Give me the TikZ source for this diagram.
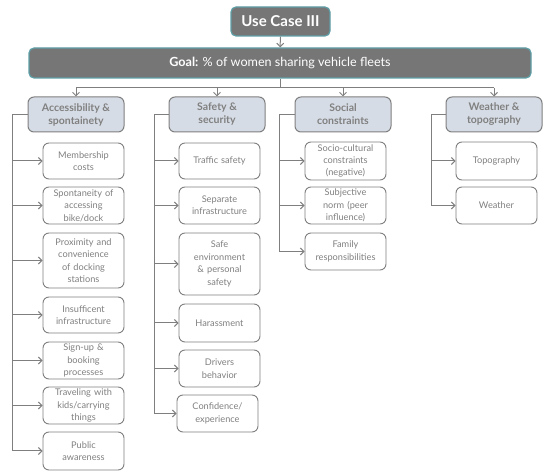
\documentclass[tikz,border=0pt]{standalone}
\usepackage{fontspec}
\setmainfont{Lato}
\usetikzlibrary{arrows.meta}

\definecolor{ucfill}{HTML}{767676}
\definecolor{ucedge}{HTML}{5E9FA6}
\definecolor{catfill}{HTML}{D6DCE5}
\definecolor{linegray}{HTML}{7F7F7F}
\definecolor{textgray}{HTML}{808080}

\tikzset{
  usecase/.style={draw=ucedge, line width=1.2pt, fill=ucfill, rounded corners=5pt,
    text=white, font=\fontsize{15}{17}\selectfont\bfseries, inner sep=0pt},
  catbox/.style={draw=linegray, line width=1pt, fill=catfill, rounded corners=6pt,
    text=textgray, font=\fontsize{10.5}{13}\selectfont\bfseries, align=center,
    minimum width=96pt, minimum height=35pt, inner sep=0pt},
  itembox/.style={draw=linegray, line width=0.9pt, fill=white, rounded corners=6pt,
    text=textgray, font=\fontsize{9.2}{12.4}\selectfont, align=center, text width=79pt,
    minimum width=81pt, inner sep=0pt},
  link/.style={draw=linegray, line width=1pt},
  >={Straight Barb[length=3.5pt,width=7pt]}
}

\begin{document}
\begin{tikzpicture}[x=1pt, y=-1pt]
    \useasboundingbox (0,0) rectangle (550,476);

    % Use case and goal
    \node[usecase, minimum width=99pt, minimum height=29pt] (uc) at (280.5,21.5) {Use Case III};
    \node[usecase, minimum width=502pt, minimum height=30pt, font=\fontsize{12.6}{14}\selectfont]
      (goal) at (280,63) {\textbf{Goal:} \% of women sharing vehicle fleets};
    \draw[link, ->] (uc) -- (goal);

    % Categories
    \node[catbox] (acc) at (76,114.5) {Accessibility \&\\spontainety};
    \node[catbox] (saf) at (217,114.5) {Safety \&\\security};
    \node[catbox] (soc) at (343,114.5) {Social\\constraints};
    \node[catbox] (wea) at (494,114.5) {Weather \&\\topography};

    \coordinate (split) at (280,88);
    \draw[link] (goal.south) -- (split);
    \draw[link] (acc.north |- split) -- (wea.north |- split);
    \foreach \c in {acc,saf,soc,wea}
      \draw[link, ->] (\c.north |- split) -- (\c.north);

    % Accessibility & spontainety
    \node[itembox, minimum height=36pt] (mem) at (83.5,161) {Membership\\costs};
    \node[itembox, minimum height=37pt] (spo) at (83.5,205.5) {Spontaneity of\\accessing\\bike/dock};
    \node[itembox, minimum height=55pt] (pro) at (83.5,260.5) {Proximity and\\convenience\\of docking\\stations};
    \node[itembox, minimum height=36pt] (ins) at (83.5,315) {Insufficent\\infrastructure};
    \node[itembox, minimum height=37pt] (sig) at (83.5,360.5) {Sign-up \&\\booking\\processes};
    \node[itembox, minimum height=37pt] (tra) at (83.5,405.5) {Traveling with\\kids/carrying\\things};
    \node[itembox, minimum height=38pt] (pub) at (83.5,451) {Public\\awareness};

    % Safety & security
    \node[itembox, minimum height=36pt] (trf) at (219.5,161) {Traffic safety};
    \node[itembox, minimum height=37pt] (sep) at (219.5,205.5) {Separate\\infrastructure};
    \node[itembox, minimum height=62pt] (env) at (219.5,264) {Safe\\environment\\\& personal\\safety};
    \node[itembox, minimum height=38pt] (har) at (219.5,323) {Harassment};
    \node[itembox, minimum height=37pt] (drv) at (219.5,368.5) {Drivers\\behavior};
    \node[itembox, minimum height=37pt] (con) at (217.5,413.5) {Confidence/\\experience};

    % Social constraints
    \node[itembox, minimum height=38pt] (scu) at (345.5,161) {Socio-cultural\\constraints\\(negative)};
    \node[itembox, minimum height=37pt] (sub) at (345.5,205.5) {Subjective\\norm (peer\\influence)};
    \node[itembox, minimum height=37pt] (fam) at (345.5,251.5) {Family\\responsibilities};

    % Weather & topography
    \node[itembox, minimum height=38pt] (top) at (496.5,161) {Topography};
    \node[itembox, minimum height=37pt] (wth) at (496.5,205.5) {Weather};

    % Rails
    \coordinate (accrail) at (12,0);
    \coordinate (safrail) at (154,0);
    \coordinate (socrail) at (279,0);
    \coordinate (wearail) at (431,0);

    \draw[link] (acc.west) -- (acc.west -| accrail) -- (accrail |- pub.west);
    \foreach \i in {mem,spo,pro,ins,sig,tra,pub}
      \draw[link, ->] (accrail |- \i.west) -- (\i.west);

    \draw[link] (saf.west) -- (saf.west -| safrail) -- (safrail |- con.west);
    \foreach \i in {trf,sep,env,har,drv,con}
      \draw[link, ->] (safrail |- \i.west) -- (\i.west);

    \draw[link] (soc.west) -- (soc.west -| socrail) -- (socrail |- fam.west);
    \foreach \i in {scu,sub,fam}
      \draw[link, ->] (socrail |- \i.west) -- (\i.west);

    \draw[link] (wea.west) -- (wea.west -| wearail) -- (wearail |- wth.west);
    \foreach \i in {top,wth}
      \draw[link, ->] (wearail |- \i.west) -- (\i.west);
\end{tikzpicture}
\end{document}
